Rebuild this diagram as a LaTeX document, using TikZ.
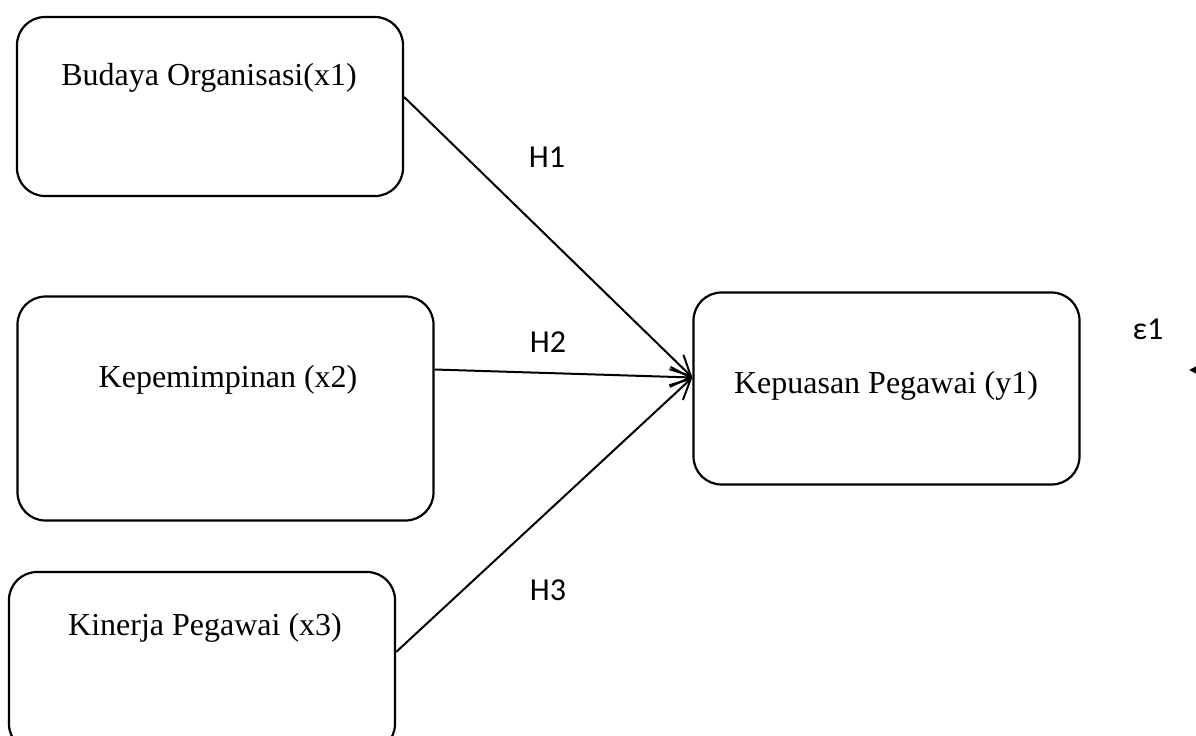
\documentclass[tikz,border=0pt]{standalone}
\usepackage{fontspec}
\setmainfont{Liberation Serif}
\newfontfamily\calib{Carlito}
\usetikzlibrary{arrows.meta}
\begin{document}
\begin{tikzpicture}[x=0.5pt,y=-0.5pt,
  varbox/.style={draw,line width=1.1pt,rounded corners=14pt,inner sep=0pt},
  vartext/.style={font=\fontsize{16}{18}\selectfont,anchor=base,inner sep=0pt},
  hlabel/.style={font=\calib\fontsize{16}{18}\selectfont,inner sep=0pt},
  path/.style={line width=1pt,-{Straight Barb[length=10pt,width=10pt,line width=1pt]}},
  errarrow/.style={line width=1pt,-{Triangle[length=6pt,width=6pt]}}]
\clip (0,0) rectangle (1196,735);
\fill[white] (0,0) rectangle (1196,735);
% boxes
\node[varbox,minimum width=193pt,minimum height=89.5pt] (b1) at (210,106.5) {};
\node[varbox,minimum width=208pt,minimum height=112pt] (b2) at (225.5,408.5) {};
\node[varbox,minimum width=193pt,minimum height=90pt] (b3) at (202,662) {};
\node[varbox,minimum width=193pt,minimum height=96pt] (b4) at (886.5,388.5) {};
% texts
\node[vartext] (t1) at (209,85) {Budaya Organisasi(x1)};
\node[vartext] (t2) at (228,387) {Kepemimpinan (x2)};
\node[vartext] (t3) at (205,635) {Kinerja Pegawai (x3)};
\node[vartext] (t4) at (886,393) {Kepuasan Pegawai (y1)};
% connectors
\coordinate (hub) at ([yshift=5.5pt]b4.west);
\draw[path] ([yshift=4.75pt]b1.east) -- (hub);
\draw[path] ([yshift=19.5pt]b2.east) -- (hub);
\draw[path] ([yshift=5pt]b3.east) -- (hub);
% labels
\node[hlabel] (h1) at (547,157) {H1};
\node[hlabel] (h2) at (548,342) {H2};
\node[hlabel] (h3) at (548,590) {H3};
\node[hlabel] (eps) at (1148,329) {ε1};
% error arrow
\coordinate (etail) at (1240,370);
\coordinate (etip) at (1189,370);
\draw[errarrow] (etail) -- (etip);
\end{tikzpicture}
\end{document}
